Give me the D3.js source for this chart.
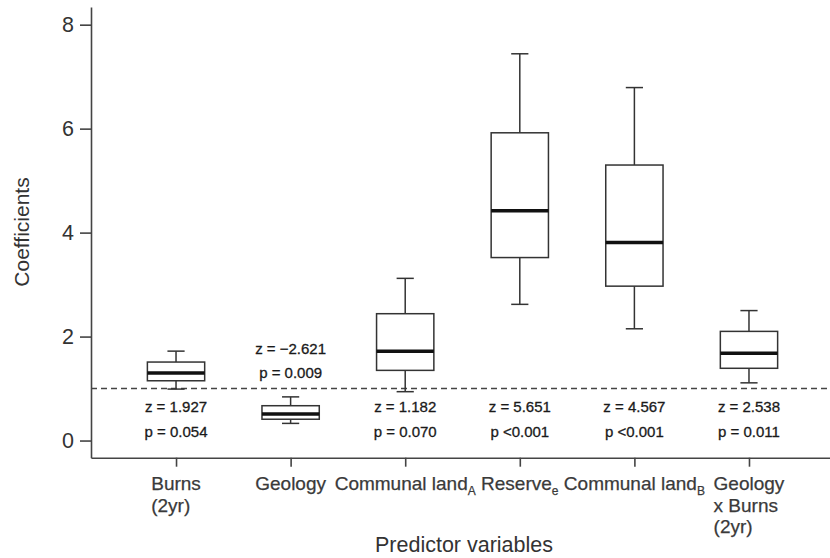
<!DOCTYPE html>
<html>
  <head>
    <meta charset="utf-8">
    <title>Predictor coefficients</title>
    <script src="https://d3js.org/d3.v7.min.js"></script>
    <style>
      body { margin: 0; background: #fff; }
      text { font-family: "Liberation Sans", Arial, sans-serif; }
    </style>
  </head>
  <body>
    <script>
      // Data
      var categories = ["Burns (2yr)", "Geology", "Communal land A", "Reserve e", "Communal land B", "Geology x Burns (2yr)"];
      // label lines; a second entry in a line is drawn as a subscript
      var labelLines = [
        [["Burns"], ["(2yr)"]],
        [["Geology"]],
        [["Communal land", "A"]],
        [["Reserve", "e"]],
        [["Communal land", "B"]],
        [["Geology"], ["x Burns"], ["(2yr)"]]
      ];
      var whiskerLow  = [0.99, 0.33, 0.94, 2.62, 2.15, 1.11];
      var q1          = [1.15, 0.41, 1.35, 3.52, 2.97, 1.39];
      var medians     = [1.30, 0.51, 1.72, 4.42, 3.81, 1.68];
      var q3          = [1.51, 0.67, 2.44, 5.92, 5.30, 2.10];
      var whiskerHigh = [1.72, 0.84, 3.12, 7.44, 6.79, 2.50];
      var zLabels = ["z = 1.927", "z = \u22122.621", "z = 1.182", "z = 5.651", "z = 4.567", "z = 2.538"];
      var pLabels = ["p = 0.054", "p = 0.009", "p = 0.070", "p <0.001", "p <0.001", "p = 0.011"];
      var labelAbove = [false, true, false, false, false, false];
      var refLine = 1;
      var yTicks = [0, 2, 4, 6, 8];

      var width = 830, height = 558;

      var svg = d3.select("body").append("svg")
        .attr("width", width)
        .attr("height", height);

      // x: category index -> pixel; range runs from the y axis to the right edge
      var x = d3.scaleLinear().domain([-0.742, 5.707]).range([91, 830]);
      var y = d3.scaleLinear().domain([-0.33, 8.34]).range([457.7, 7]);
      var step = x(1) - x(0);
      var boxW = step * 0.5;
      var capW = step * 0.15;

      // y axis
      var yAxis = svg.append("g")
        .attr("transform", "translate(91,0)")
        .call(d3.axisLeft(y).tickValues(yTicks).tickSize(11).tickSizeOuter(0).tickPadding(6));
      yAxis.selectAll("path, line").attr("stroke", "#444").attr("stroke-width", 1.6);
      yAxis.selectAll("text").attr("font-size", 21.5).attr("fill", "#333")
        .style("font-family", "Liberation Sans, Arial, sans-serif");

      // x axis
      var xAxis = svg.append("g")
        .attr("transform", "translate(0,457.7)")
        .call(d3.axisBottom(x).tickValues(d3.range(categories.length)).tickSize(9).tickSizeOuter(0).tickFormat(""));
      xAxis.selectAll("path, line").attr("stroke", "#444").attr("stroke-width", 1.6);

      // x tick labels
      categories.forEach(function(c, i) {
        var lines = labelLines[i];
        var g = svg.append("g");
        var texts = lines.map(function(parts, j) {
          var t = g.append("text")
            .attr("y", 490 + j * 21.5)
            .attr("font-size", 19)
            .attr("fill", "#3a3a3a")
            .attr("stroke", "#3a3a3a")
            .attr("stroke-width", 0.25)
            .attr("text-anchor", "start");
          t.append("tspan").text(parts[0]);
          if (parts[1]) {
            t.append("tspan").attr("dy", 5).attr("font-size", 12).text(parts[1]);
          }
          return t;
        });
        var w = d3.max(texts, function(t) { return t.node().getComputedTextLength(); });
        texts.forEach(function(t) { t.attr("x", x(i) - w / 2); });
      });

      // axis titles
      svg.append("text")
        .attr("transform", "translate(29,232) rotate(-90)")
        .attr("text-anchor", "middle")
        .attr("font-size", 21)
        .attr("fill", "#333")
        .text("Coefficients");

      svg.append("text")
        .attr("x", 464)
        .attr("y", 552)
        .attr("text-anchor", "middle")
        .attr("font-size", 21.5)
        .attr("fill", "#333")
        .text("Predictor variables");

      // reference line
      svg.append("line")
        .attr("x1", 91).attr("x2", 830)
        .attr("y1", y(refLine)).attr("y2", y(refLine))
        .attr("stroke", "#444")
        .attr("stroke-width", 1.5)
        .attr("stroke-dasharray", "6,4");

      // boxes
      var boxes = svg.selectAll(".box")
        .data(d3.range(categories.length))
        .enter().append("g")
        .attr("class", "box")
        .attr("stroke", "#333")
        .attr("stroke-width", 1.5)
        .attr("fill", "none");

      boxes.append("line")
        .attr("x1", function(i) { return x(i); })
        .attr("x2", function(i) { return x(i); })
        .attr("y1", function(i) { return y(whiskerHigh[i]); })
        .attr("y2", function(i) { return y(q3[i]); });
      boxes.append("line")
        .attr("x1", function(i) { return x(i); })
        .attr("x2", function(i) { return x(i); })
        .attr("y1", function(i) { return y(q1[i]); })
        .attr("y2", function(i) { return y(whiskerLow[i]); });
      boxes.append("line")
        .attr("x1", function(i) { return x(i) - capW / 2; })
        .attr("x2", function(i) { return x(i) + capW / 2; })
        .attr("y1", function(i) { return y(whiskerHigh[i]); })
        .attr("y2", function(i) { return y(whiskerHigh[i]); });
      boxes.append("line")
        .attr("x1", function(i) { return x(i) - capW / 2; })
        .attr("x2", function(i) { return x(i) + capW / 2; })
        .attr("y1", function(i) { return y(whiskerLow[i]); })
        .attr("y2", function(i) { return y(whiskerLow[i]); });
      boxes.append("rect")
        .attr("x", function(i) { return x(i) - boxW / 2; })
        .attr("width", boxW)
        .attr("y", function(i) { return y(q3[i]); })
        .attr("height", function(i) { return y(q1[i]) - y(q3[i]); })
        .attr("fill", "#fff");
      boxes.append("line")
        .attr("x1", function(i) { return x(i) - boxW / 2; })
        .attr("x2", function(i) { return x(i) + boxW / 2; })
        .attr("y1", function(i) { return y(medians[i]); })
        .attr("y2", function(i) { return y(medians[i]); })
        .attr("stroke", "#111")
        .attr("stroke-width", 3.5);

      // z / p annotations
      var notes = svg.selectAll(".note")
        .data(d3.range(categories.length))
        .enter().append("g")
        .attr("class", "note")
        .attr("font-size", 15)
        .attr("fill", "#1a1a1a")
        .attr("stroke", "#1a1a1a")
        .attr("stroke-width", 0.3)
        .attr("text-anchor", "middle");
      notes.append("text")
        .attr("x", function(i) { return x(i); })
        .attr("y", function(i) { return labelAbove[i] ? 354 : 412; })
        .text(function(i) { return zLabels[i]; });
      notes.append("text")
        .attr("x", function(i) { return x(i); })
        .attr("y", function(i) { return labelAbove[i] ? 378 : 437; })
        .text(function(i) { return pLabels[i]; });
    </script>
  </body>
</html>
